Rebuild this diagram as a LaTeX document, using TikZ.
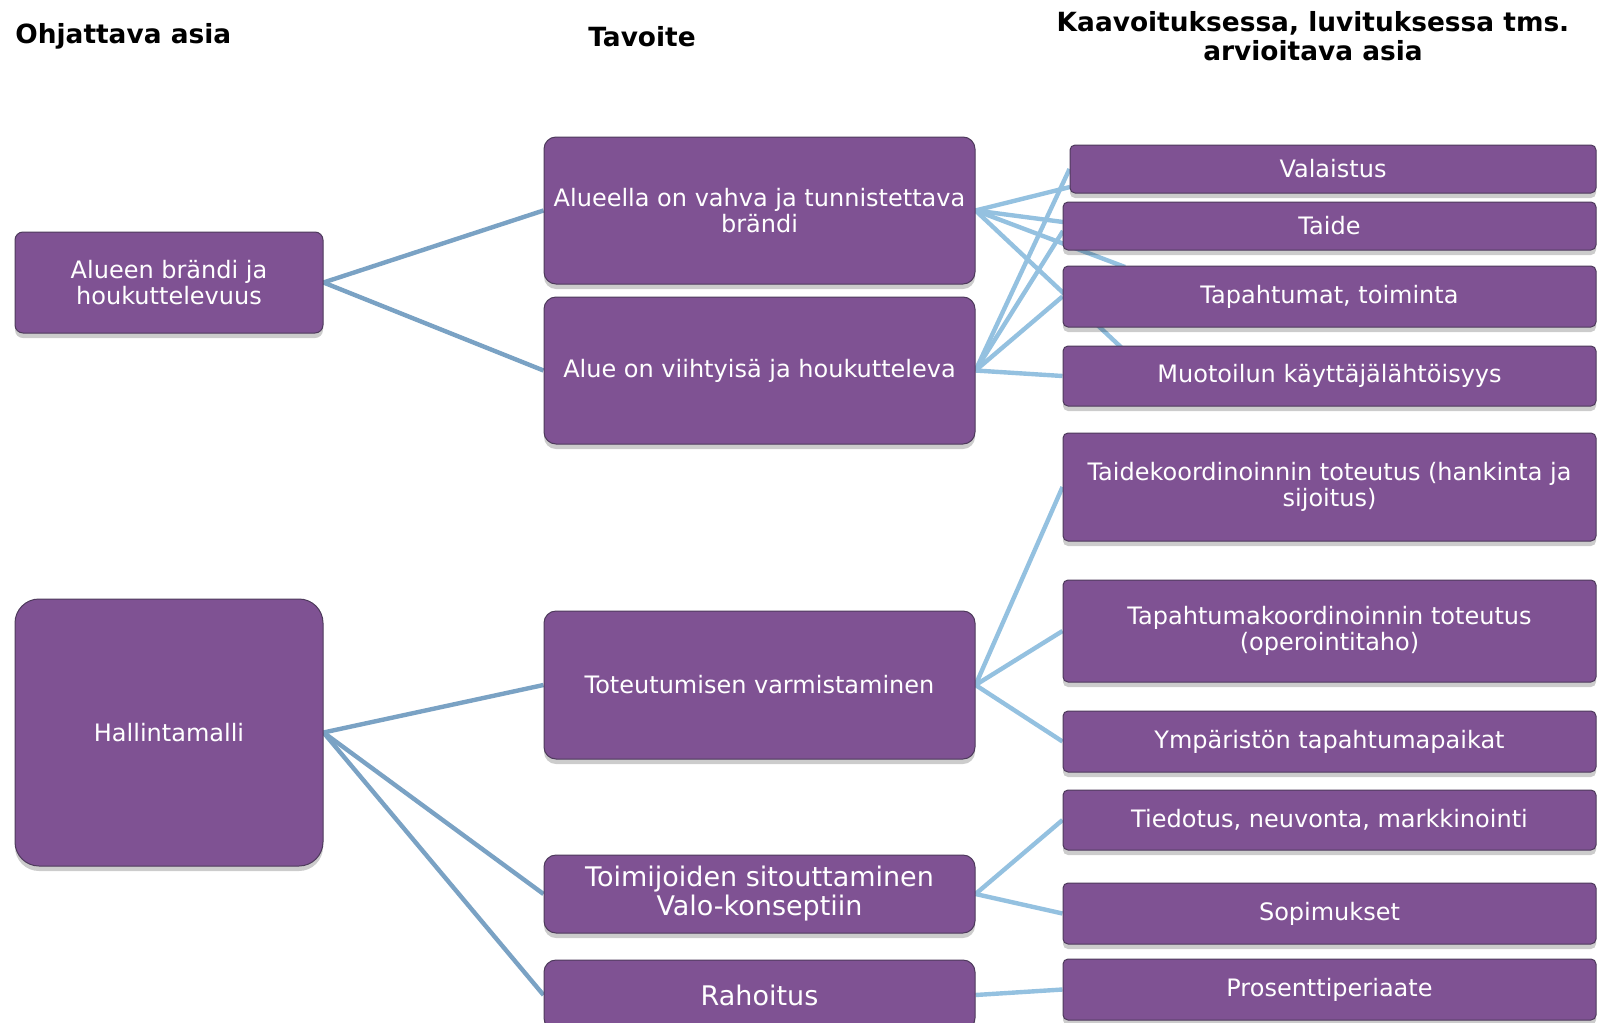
\documentclass[tikz,border=0pt]{standalone}
\usepackage{fontspec}
\setmainfont{DejaVu Sans}
\usetikzlibrary{shadows,backgrounds}
\definecolor{boxfill}{RGB}{127,82,147}
\definecolor{boxline}{RGB}{78,58,92}
\definecolor{linkA}{RGB}{122,162,196}
\definecolor{linkB}{RGB}{148,193,224}
\begin{document}
\begin{tikzpicture}[x=0.5pt,y=-0.5pt,
  box/.style={draw=boxline, line width=0.5pt, fill=boxfill, text=white, align=center,
    font=\fontsize{12}{13}\selectfont, inner sep=0pt,
    drop shadow={shadow xshift=0pt, shadow yshift=-2.5pt, opacity=0.2, fill=black}},
  bigtxt/.style={font=\fontsize{13.5}{14.5}\selectfont},
  midbox/.style={box, minimum width=215.5pt, rounded corners=6pt},
  rbox/.style={box, minimum width=266.5pt, rounded corners=2.5pt},
  head/.style={font=\bfseries\fontsize{13.2}{14.3}\selectfont, align=center, inner sep=0pt},
  linka/.style={draw=linkA, line width=2.2pt},
  linkb/.style={draw=linkB, line width=2.2pt}]
\useasboundingbox (0,0) rectangle (1602,1023);
% headers
\node[head, anchor=west] (h1) at (15,36) {Ohjattava asia};
\node[head] (h2) at (642,37) {Tavoite};
\node[head] (h3) at (1313,36) {Kaavoituksessa, luvituksessa tms.\\arvioitava asia};
% left column
\node[box, minimum width=154pt, minimum height=50.5pt, rounded corners=4pt] (alueen) at (169,282.5) {Alueen brändi ja\\houkuttelevuus};
\node[box, minimum width=154pt, minimum height=133.5pt, rounded corners=12pt] (hallinta) at (169,732.5) {Hallintamalli};
% middle column
\node[midbox, minimum height=73.5pt] (alueella) at (759.5,210.5) {Alueella on vahva ja tunnistettava\\brändi};
\node[midbox, minimum height=73.5pt] (viihty) at (759.5,370.5) {Alue on viihtyisä ja houkutteleva};
\node[midbox, minimum height=74pt] (toteut) at (759.5,685) {Toteutumisen varmistaminen};
\node[midbox, minimum height=39pt, bigtxt] (toimij) at (759.5,894) {Toimijoiden sitouttaminen\\Valo-konseptiin};
\node[midbox, minimum height=35pt, bigtxt] (rahoitus) at (759.5,995) {Rahoitus};
% right column
\node[rbox, minimum width=263pt, minimum height=24pt] (valaistus) at (1333,169) {Valaistus};
\node[rbox, minimum height=24pt] (taide) at (1329.5,226) {Taide};
\node[rbox, minimum height=30.5pt] (tapaht) at (1329.5,296.5) {Tapahtumat, toiminta};
\node[rbox, minimum height=30pt] (muotoilu) at (1329.5,376) {Muotoilun käyttäjälähtöisyys};
\node[rbox, minimum height=54pt] (taidek) at (1329.5,487) {Taidekoordinoinnin toteutus (hankinta ja\\sijoitus)};
\node[rbox, minimum height=51pt] (tapahk) at (1329.5,631) {Tapahtumakoordinoinnin toteutus\\(operointitaho)};
\node[rbox, minimum height=30.5pt] (ympar) at (1329.5,741.5) {Ympäristön tapahtumapaikat};
\node[rbox, minimum height=30pt] (tiedotus) at (1329.5,820) {Tiedotus, neuvonta, markkinointi};
\node[rbox, minimum height=30.5pt] (sopim) at (1329.5,913.5) {Sopimukset};
\node[rbox, minimum height=30.5pt] (prosentti) at (1329.5,989.5) {Prosenttiperiaate};
% free ends of the top connectors
\coordinate (aVal) at (1070,187);
\coordinate (aTai) at (1063,222);
\coordinate (aTap) at (1125,267);
\coordinate (aMuo) at (1124,350);
\coordinate (bTai) at (1063,231);
\begin{scope}[on background layer]
\fill[white] (0,0) rectangle (1602,1023);
\draw[linka] (alueen.east) -- (alueella.west);
\draw[linka] (alueen.east) -- (viihty.west);
\draw[linka] (hallinta.east) -- (toteut.west);
\draw[linka] (hallinta.east) -- (toimij.west);
\draw[linka] (hallinta.east) -- (rahoitus.west);
\draw[linkb] (alueella.east) -- (aVal);
\draw[linkb] (alueella.east) -- (aTai);
\draw[linkb] (alueella.east) -- (aTap);
\draw[linkb] (alueella.east) -- (aMuo);
\draw[linkb] (viihty.east) -- (valaistus.west);
\draw[linkb] (viihty.east) -- (bTai);
\draw[linkb] (viihty.east) -- (tapaht.west);
\draw[linkb] (viihty.east) -- (muotoilu.west);
\draw[linkb] (toteut.east) -- (taidek.west);
\draw[linkb] (toteut.east) -- (tapahk.west);
\draw[linkb] (toteut.east) -- (ympar.west);
\draw[linkb] (toimij.east) -- (tiedotus.west);
\draw[linkb] (toimij.east) -- (sopim.west);
\draw[linkb] (rahoitus.east) -- (prosentti.west);
\end{scope}
\end{tikzpicture}
\end{document}
